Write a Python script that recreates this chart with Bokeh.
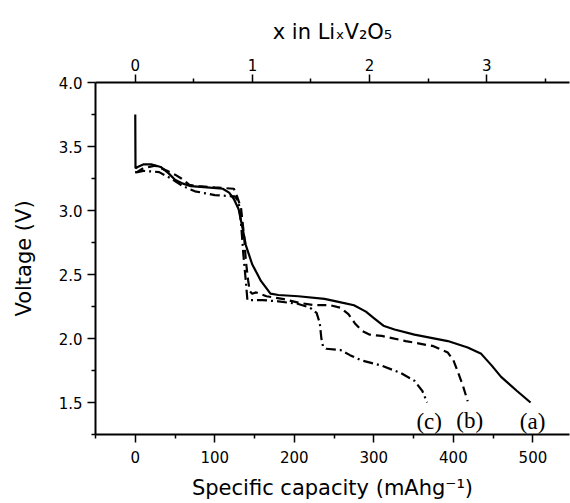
from bokeh.plotting import figure
from bokeh.models import Range1d, LinearAxis, FixedTicker, ColumnDataSource, PrintfTickFormatter, CustomJSTickFormatter
from bokeh.core.properties import value
from bokeh.embed import file_html
from bokeh.resources import INLINE

# ---- data ----
cap_a = [0, 0.3, 3, 10, 20, 32, 42, 50, 60, 70, 90, 110, 118, 124, 130, 135, 139, 147, 158, 170,
         180, 205, 238, 260, 275, 290, 300, 312, 326, 351, 393, 418, 435, 448, 460, 480, 497]
v_a = [3.75, 3.33, 3.34, 3.36, 3.36, 3.34, 3.29, 3.24, 3.21, 3.19, 3.18, 3.17, 3.14, 3.09, 3.01, 2.86,
       2.73, 2.58, 2.45, 2.35, 2.34, 2.33, 2.31, 2.28, 2.26, 2.21, 2.16, 2.10, 2.07, 2.03, 1.98, 1.93,
       1.88, 1.79, 1.70, 1.59, 1.50]

cap_b = [0, 2, 10, 25, 40, 50, 58, 68, 80, 100, 124, 128, 133, 137, 139, 142, 144, 147, 152, 165,
         185, 205, 225, 245, 258, 268, 276, 285, 295, 310, 340, 375, 393, 400, 405, 412, 418]
v_b = [3.30, 3.30, 3.33, 3.35, 3.31, 3.28, 3.25, 3.20, 3.19, 3.18, 3.17, 3.11, 3.02, 2.79, 2.61, 2.45,
       2.37, 2.35, 2.36, 2.33, 2.31, 2.28, 2.26, 2.26, 2.24, 2.19, 2.12, 2.06, 2.03, 2.02, 1.98, 1.94,
       1.89, 1.83, 1.75, 1.63, 1.51]

cap_c = [0, 3, 10, 30, 45, 60, 75, 100, 125, 130, 133, 136, 139, 141, 160, 180, 205, 220, 228, 232,
         234, 236, 240, 258, 270, 284, 309, 334, 351, 361, 367]
v_c = [3.30, 3.30, 3.31, 3.30, 3.25, 3.19, 3.15, 3.12, 3.11, 3.07, 2.90, 2.65, 2.45, 2.30, 2.30, 2.29,
       2.27, 2.24, 2.20, 2.12, 2.00, 1.94, 1.92, 1.91, 1.87, 1.83, 1.79, 1.73, 1.67, 1.59, 1.50]

curve_labels = ["(a)", "(b)", "(c)"]
cap_per_li = 147.3          # mAh/g per x in LixV2O5
x_li_ticks = [0, 1, 2, 3]
cap_ticks = [0, 100, 200, 300, 400, 500]
volt_ticks = [1.5, 2.0, 2.5, 3.0, 3.5, 4.0]

# ---- figure ----
FONT = "DejaVu Sans"
x0, x1 = -50, 546
p = figure(width=570, height=503, output_backend="svg", toolbar_location=None,
           x_range=Range1d(x0, x1), y_range=Range1d(1.25, 4.0),
           min_border_left=95, min_border_right=1, min_border_top=82, min_border_bottom=69,
           x_axis_label="Specific capacity (mAhg\u207b\u00b9)", y_axis_label="Voltage (V)")
p.outline_line_color = None
p.xgrid.visible = False
p.ygrid.visible = False

bottom = p.below[0]
left = p.left[0]

top = LinearAxis(axis_label="x in Li\u2093V\u2082O\u2085")
top.ticker = FixedTicker(ticks=[t * cap_per_li for t in x_li_ticks],
                         minor_ticks=[(t + 0.5) * cap_per_li for t in x_li_ticks])
top.formatter = CustomJSTickFormatter(args=dict(k=cap_per_li),
                                      code="return Math.round(tick / k).toString();")
p.add_layout(top, "above")

bottom.ticker = FixedTicker(ticks=cap_ticks, minor_ticks=[t - 50 for t in cap_ticks] + [550])
left.ticker = FixedTicker(ticks=volt_ticks, minor_ticks=[t - 0.25 for t in volt_ticks])
left.formatter = PrintfTickFormatter(format="%.1f")

for ax in [bottom, left, top]:
    ax.axis_line_width = 2
    ax.axis_line_color = "black"
    ax.major_tick_line_width = 1.5
    ax.minor_tick_line_width = 1.5
    ax.major_tick_out = 8
    ax.major_tick_in = 0
    ax.minor_tick_out = 4
    ax.minor_tick_in = 0
    ax.major_label_text_font = FONT
    ax.major_label_text_font_size = "15px"
    ax.major_label_text_color = "black"
    ax.axis_label_text_font = FONT
    ax.axis_label_text_font_size = "21px"
    ax.axis_label_text_font_style = "normal"
    ax.axis_label_text_color = "black"

left.major_label_standoff = 5
left.axis_label_standoff = 20
bottom.major_label_standoff = 8
bottom.axis_label_standoff = 10
top.major_label_standoff = 4
top.axis_label_standoff = 12

p.line(cap_a, v_a, line_color="black", line_width=2.2)
p.line(cap_b, v_b, line_color="black", line_width=2.2, line_dash="9 5")
p.line(cap_c, v_c, line_color="black", line_width=2.2, line_dash="10 4 2 4")

ends_x = [cap_a[-1], cap_b[-1], cap_c[-1]]
ends_y = [v_a[-1], v_b[-1], v_c[-1]]
src = ColumnDataSource(dict(x=ends_x, y=[v - 0.15 for v in ends_y], t=curve_labels))
p.text(x="x", y="y", text="t", source=src, text_font=value("Liberation Serif"),
       text_font_size="23px", text_align="center", text_baseline="middle", text_color="black",
       x_offset=2)

open("out.html", "w").write(file_html(p, INLINE))
